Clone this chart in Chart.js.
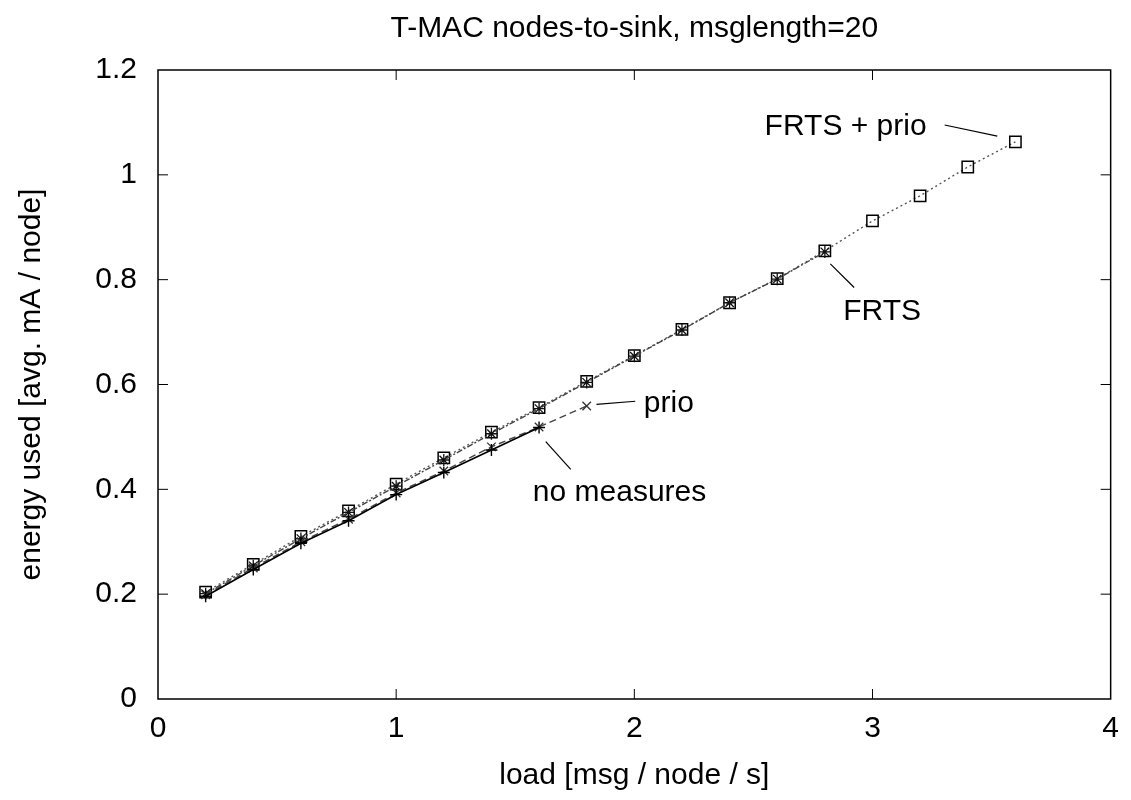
<!DOCTYPE html>
<html>
<head>
<meta charset="utf-8">
<script src="https://cdn.jsdelivr.net/npm/chart.js@4/dist/chart.umd.min.js"></script>
<style>
  body { margin: 0; background: #fff; }
  #chart { display: block; }
</style>
</head>
<body>
<canvas id="chart" width="1131" height="800"></canvas>
<script>
// load values (msg / node / s)
const loads = [0.2, 0.4, 0.6, 0.8, 1.0, 1.2, 1.4, 1.6, 1.8, 2.0, 2.2, 2.4, 2.6, 2.8, 3.0, 3.2, 3.4, 3.6];

// energy used per series (avg. mA / node)
const noMeasures = [0.196, 0.247, 0.297, 0.340, 0.390, 0.432, 0.475, 0.518];
const prio = [0.199, 0.250, 0.300, 0.343, 0.393, 0.435, 0.481, 0.519, 0.559];
const frts = [0.201, 0.254, 0.306, 0.356, 0.406, 0.456, 0.506, 0.554, 0.604, 0.654, 0.704, 0.756, 0.801, 0.853];
const frtsPrio = [0.204, 0.257, 0.310, 0.359, 0.410, 0.460, 0.509, 0.556, 0.606, 0.655, 0.705, 0.756, 0.802, 0.855, 0.912, 0.960, 1.015, 1.063];

const xTicks = [0, 1, 2, 3, 4];
const yTicks = [0, 0.2, 0.4, 0.6, 0.8, 1.0, 1.2];

const chartTitle = "T-MAC nodes-to-sink, msglength=20";

// text labels next to the curves (data coordinates)
const notes = [
  { text: "FRTS + prio", x: 2.547, y: 1.076, from: [3.303, 1.095], to: [3.524, 1.074] },
  { text: "FRTS", x: 2.877, y: 0.724, from: [2.823, 0.830], to: [2.923, 0.785] },
  { text: "prio", x: 2.04, y: 0.547, from: [1.841, 0.562], to: [2.004, 0.568] },
  { text: "no measures", x: 1.574, y: 0.377, from: [1.628, 0.491], to: [1.733, 0.438] }
];

const FONT = "'Liberation Sans', Arial, Helvetica, sans-serif";

function toPoints(vals) {
  return vals.map((v, i) => ({ x: loads[i], y: v }));
}

// frame, inner tick marks, title and curve labels (gnuplot look)
const framePlugin = {
  id: "frame",
  afterDatasetsDraw(chart) {
    const ctx = chart.ctx;
    const a = chart.chartArea;
    const xs = chart.scales.x, ys = chart.scales.y;
    ctx.save();
    ctx.strokeStyle = "#000";
    ctx.lineWidth = 1.5;
    ctx.strokeRect(a.left, a.top, a.right - a.left, a.bottom - a.top);
    ctx.lineWidth = 1;
    ctx.beginPath();
    xTicks.slice(1, -1).forEach(t => {
      const px = xs.getPixelForValue(t);
      ctx.moveTo(px, a.bottom); ctx.lineTo(px, a.bottom - 10);
      ctx.moveTo(px, a.top); ctx.lineTo(px, a.top + 10);
    });
    yTicks.slice(1, -1).forEach(t => {
      const py = ys.getPixelForValue(t);
      ctx.moveTo(a.left, py); ctx.lineTo(a.left + 10, py);
      ctx.moveTo(a.right, py); ctx.lineTo(a.right - 10, py);
    });
    ctx.stroke();

    ctx.fillStyle = "#000";
    ctx.font = "30px " + FONT;
    ctx.textBaseline = "alphabetic";

    // title, centred over the plot box
    ctx.textAlign = "center";
    ctx.fillText(chartTitle, (a.left + a.right) / 2, 37);

    // curve labels
    ctx.textAlign = "left";
    ctx.lineWidth = 1.2;
    notes.forEach(n => {
      ctx.fillText(n.text, xs.getPixelForValue(n.x), ys.getPixelForValue(n.y));
      ctx.beginPath();
      ctx.moveTo(xs.getPixelForValue(n.from[0]), ys.getPixelForValue(n.from[1]));
      ctx.lineTo(xs.getPixelForValue(n.to[0]), ys.getPixelForValue(n.to[1]));
      ctx.stroke();
    });
    ctx.restore();
  }
};

new Chart(document.getElementById("chart"), {
  type: "line",
  data: {
    datasets: [
      {
        label: "no measures",
        data: toPoints(noMeasures),
        borderColor: "#000",
        borderWidth: 1.6,
        pointStyle: "cross",
        pointRadius: 6,
        pointBorderColor: "#000",
        pointBorderWidth: 1.4
      },
      {
        label: "prio",
        data: toPoints(prio),
        borderColor: "#444",
        borderWidth: 1.4,
        borderDash: [7, 4],
        pointStyle: "crossRot",
        pointRadius: 6,
        pointBorderColor: "#333",
        pointBorderWidth: 1.3
      },
      {
        label: "FRTS",
        data: toPoints(frts),
        borderColor: "#444",
        borderWidth: 1.4,
        borderDash: [6, 2, 2, 2],
        pointStyle: "star",
        pointRadius: 6,
        pointBorderColor: "#111",
        pointBorderWidth: 1.3
      },
      {
        label: "FRTS + prio",
        data: toPoints(frtsPrio),
        borderColor: "#555",
        borderWidth: 1.4,
        borderDash: [2, 3],
        pointStyle: "rect",
        pointRadius: 8,
        pointBackgroundColor: "rgba(0,0,0,0)",
        pointBorderColor: "#000",
        pointBorderWidth: 1.5
      }
    ]
  },
  options: {
    responsive: false,
    animation: false,
    layout: { padding: { top: 70, right: 15, bottom: 0, left: 0 } },
    plugins: {
      legend: { display: false },
      tooltip: { enabled: false },
      title: { display: false }
    },
    scales: {
      x: {
        type: "linear",
        min: 0,
        max: 4,
        afterBuildTicks: s => { s.ticks = xTicks.map(v => ({ value: v })); },
        afterFit: s => { s.height = 101; },
        grid: { display: false, drawTicks: false },
        border: { display: false },
        ticks: {
          color: "#000",
          padding: 12,
          font: { family: FONT, size: 30 },
          callback: v => String(v)
        },
        title: {
          display: true,
          text: "load [msg / node / s]",
          color: "#000",
          font: { family: FONT, size: 30, lineHeight: 1.2 },
          padding: { top: 0, bottom: 6 }
        }
      },
      y: {
        type: "linear",
        min: 0,
        max: 1.2,
        afterBuildTicks: s => { s.ticks = yTicks.map(v => ({ value: v })); },
        afterFit: s => { s.width = 158; },
        grid: { display: false, drawTicks: false },
        border: { display: false },
        ticks: {
          color: "#000",
          padding: 21,
          font: { family: FONT, size: 30 },
          callback: v => String(+v.toFixed(1))
        },
        title: {
          display: true,
          text: "energy used [avg. mA / node]",
          color: "#000",
          font: { family: FONT, size: 30, lineHeight: 1.2 },
          padding: { top: 14, bottom: 0 }
        }
      }
    }
  },
  plugins: [framePlugin]
});
</script>
</body>
</html>
